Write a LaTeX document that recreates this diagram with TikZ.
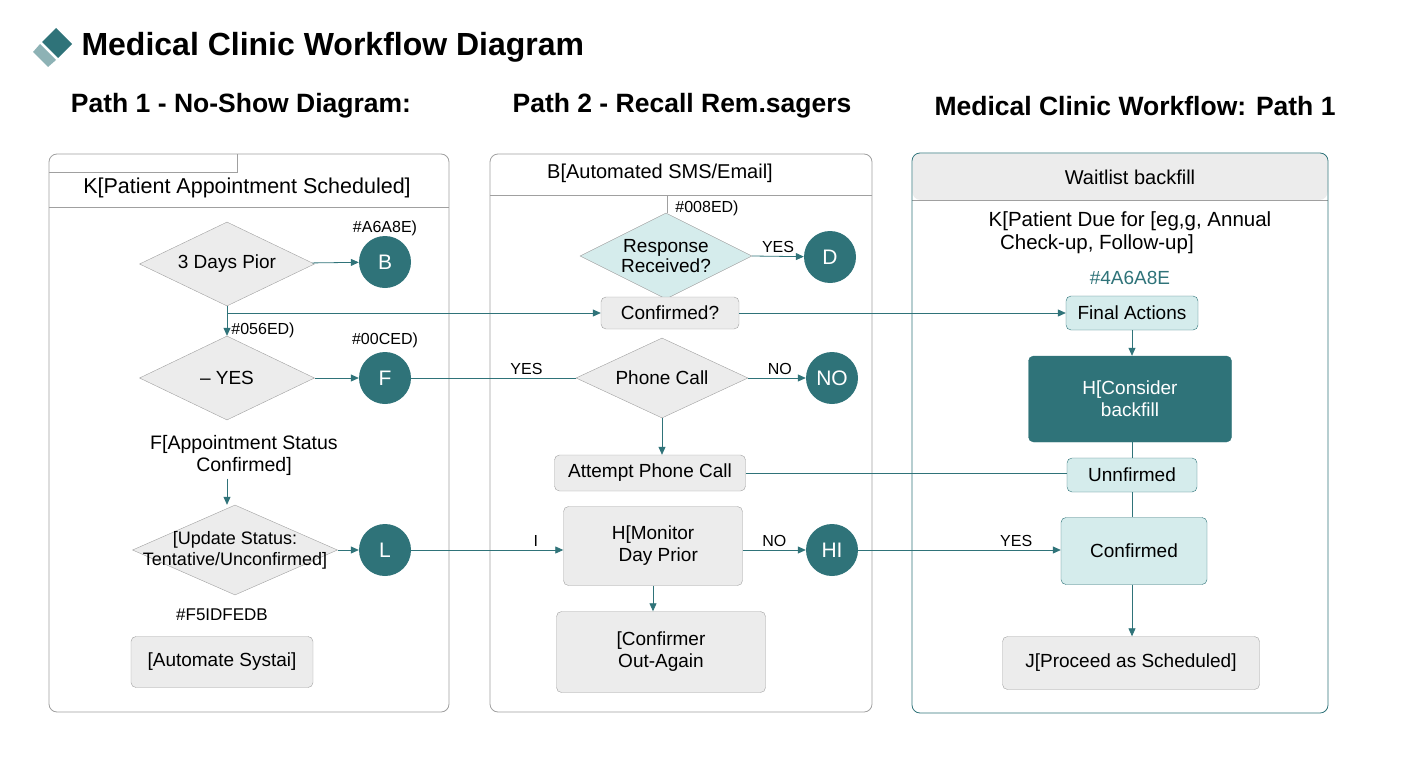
\documentclass[tikz,border=0pt]{standalone}
\usepackage{fontspec}
\setmainfont{Liberation Sans}
\usetikzlibrary{shapes.geometric, arrows.meta, positioning}
\definecolor{tealdk}{HTML}{2F7379}
\definecolor{teallt}{HTML}{D5ECEC}
\definecolor{grayfill}{HTML}{ECECEC}
\definecolor{grayline}{HTML}{A0A0A0}
\tikzset{
  panel/.style={draw=grayline, rounded corners=8pt, line width=0.8pt},
  dec/.style={diamond, draw=grayline, fill=grayfill, aspect=2.1, inner sep=0pt, align=center, font=\fontsize{19}{20}\selectfont},
  circ/.style={circle, fill=tealdk, text=white, minimum size=52pt, inner sep=0pt, font=\fontsize{21}{22}\selectfont},
  box/.style={rectangle, rounded corners=5pt, draw=grayline, fill=grayfill, align=center, font=\fontsize{19}{22}\selectfont},
  lbl/.style={font=\fontsize{16}{17}\selectfont, align=center},
  conn/.style={draw=tealdk, line width=0.8pt},
  arr/.style={conn, -{Triangle[length=8pt,width=7pt]}}
}
\begin{document}
\begin{tikzpicture}[x=1pt,y=-1pt]
\useasboundingbox (0,0) rectangle (1408,768);
% title
\fill[tealdk] (56,28) -- (72,44) -- (58,58) -- (42,42) -- cycle;
\fill[tealdk!55] (40,44) -- (56,60) -- (48,67) -- (33,52) -- cycle;
\node[anchor=west, font=\fontsize{32}{34}\selectfont\bfseries] (title) at (78,47) {Medical Clinic Workflow Diagram};
\node[font=\fontsize{26.5}{28}\selectfont\bfseries] (h1) at (241,106) {Path 1 - No-Show Diagram:};
\node[font=\fontsize{26.5}{28}\selectfont\bfseries] (h2) at (682,106) {Path 2 - Recall Rem.sagers};
\node[font=\fontsize{26.5}{28}\selectfont\bfseries] (h3) at (1135,106) {Medical Clinic Workflow: Path 1};

% panel 1
\draw[panel] (49,154) rectangle (449,712);
\draw[grayline] (49,172) -- (237,172) -- (237,154);
\draw[grayline] (49,207) -- (449,207);
\node[font=\fontsize{21.5}{24}\selectfont] (k1) at (247,188) {K[Patient Appointment Scheduled]};
\node[dec, minimum width=175pt, minimum height=84pt] (d1) at (227,264) {3 Days Pior};
\node[circ] (b) at (385,262) {B};
\node[lbl] (cb) at (385,228) {\#A6A8E)};
\node[dec, minimum width=175pt, minimum height=84pt] (d2) at (227,378) {– YES};
\node[circ] (f) at (385,378) {F};
\node[lbl] (cf) at (385,340) {\#00CED)};
\node[lbl] (c2) at (263,330) {\#056ED)};
\node[font=\fontsize{19.5}{22}\selectfont, align=center] (fs) at (244,455) {F[Appointment Status\\Confirmed]};
\node[dec, minimum width=205pt, minimum height=90pt,
  label={[align=center, font=\fontsize{18}{21}\selectfont]center:[Update Status:\\Tentative/Unconfirmed]}] (d3) at (235,550) {};
\node[circ] (l) at (385,550) {L};
\node[lbl, font=\fontsize{17}{18}\selectfont] (c3) at (222,615) {\#F5IDFEDB};
\node[box, minimum width=182pt, minimum height=51pt] (auto) at (222,662) {[Automate Systai]};

% panel 2
\draw[panel] (490,154) rectangle (872,712);
\draw[grayline] (490,195) -- (872,195);
\draw[grayline] (667,195) -- (667,213);
\node[font=\fontsize{20}{22}\selectfont] (k2) at (660,173) {B[Automated SMS/Email]};
\node[lbl] (c4) at (707,208) {\#008ED)};
\node[dec, fill=teallt, minimum width=172pt, minimum height=86pt] (resp) at (666,256) {Response\\Received?};
\node[circ] (d) at (830,257) {D};
\node[box, minimum width=138pt, minimum height=32pt] (conf) at (670,313) {Confirmed?};
\node[dec, minimum width=172pt, minimum height=80pt] (phone) at (662,378) {Phone Call};
\node[circ] (no) at (832,378) {NO};
\node[box, minimum width=191pt, minimum height=36pt] (att) at (650,473) {Attempt Phone Call};
\node[box, minimum width=179pt, minimum height=79pt] (mon) at (653,546) {H[Monitor\\\ \ Day Prior};
\node[circ] (hi) at (832,550) {HI};
\node[box, minimum width=209pt, minimum height=81pt] (again) at (661,652) {[Confirmer\\Out-Again};

% panel 3
\fill[grayfill, rounded corners=8pt] (912.5,200) -- (912.5,153.5) -- (1327.5,153.5) -- (1327.5,200) -- cycle;
\draw[grayline] (912,200) -- (1328,200);
\draw[panel, draw=tealdk] (912,153) rectangle (1328,713);
\node[font=\fontsize{20}{22}\selectfont] (wb) at (1130,177) {Waitlist backfill};
\node[font=\fontsize{20.5}{23}\selectfont, align=left] (k3) at (1130,233) {K[Patient Due for [eg,g, Annual\\\ \ Check-up, Follow-up]};
\node[lbl, text=tealdk, font=\fontsize{19}{20}\selectfont] (c5) at (1130,278) {\#4A6A8E};
\node[box, draw=tealdk, fill=teallt, minimum width=132pt, minimum height=34pt] (fin) at (1132,313) {Final Actions};
\node[box, draw=tealdk, fill=tealdk, text=white, minimum width=203pt, minimum height=86pt] (cons) at (1130,399) {H[Consider\\backfill};
\node[box, draw=tealdk, fill=teallt, minimum width=130pt, minimum height=34pt] (unf) at (1132,475) {Unnfirmed};
\node[box, draw=tealdk, fill=teallt, minimum width=146pt, minimum height=67pt] (cnf) at (1134,551) {Confirmed};
\node[box, minimum width=257pt, minimum height=53pt] (proc) at (1131,663) {J[Proceed as Scheduled]};

% connectors
\draw[arr] (d1) -- (b);
\draw[arr] (d1.south) -- (d2.north);
\draw[arr] (d1.south |- conf.west) -- (conf.west);
\draw[arr] (conf.east) -- (fin.west);
\draw[arr] (d2) -- (f);
\draw[conn] (f) -- node[lbl, above, pos=0.7] {YES} (phone.west);
\draw[arr] (fs.south -| d1.south) -- (d3.north -| d1.south);
\draw[arr] (d3.east) -- (l);
\draw[arr] (l) -- node[lbl, above, pos=0.82] {I} (mon.west |- l);
\draw[arr] (resp.east) -- node[lbl, above, pos=0.5] {YES} (d);
\draw[arr] (phone.east) -- node[lbl, above, pos=0.55] {NO} (no);
\draw[arr] (phone.south) -- (att.north -| phone.south);
\draw[conn] (att.east) -- (att.east -| unf.west);
\draw[arr] (mon.east |- hi) -- node[lbl, above, pos=0.5] {NO} (hi);
\draw[arr] (hi) -- node[lbl, above, pos=0.78] {YES} (hi -| cnf.west);
\draw[arr] (mon.south) -- (again.north -| mon.south);
\draw[arr] (fin) -- (fin |- cons.north);
\draw[conn] (cons.south -| fin) -- (unf.north -| fin);
\draw[conn] (unf.south -| fin) -- (cnf.north -| fin);
\draw[arr] (cnf.south -| fin) -- (proc.north -| fin);
\end{tikzpicture}
\end{document}
